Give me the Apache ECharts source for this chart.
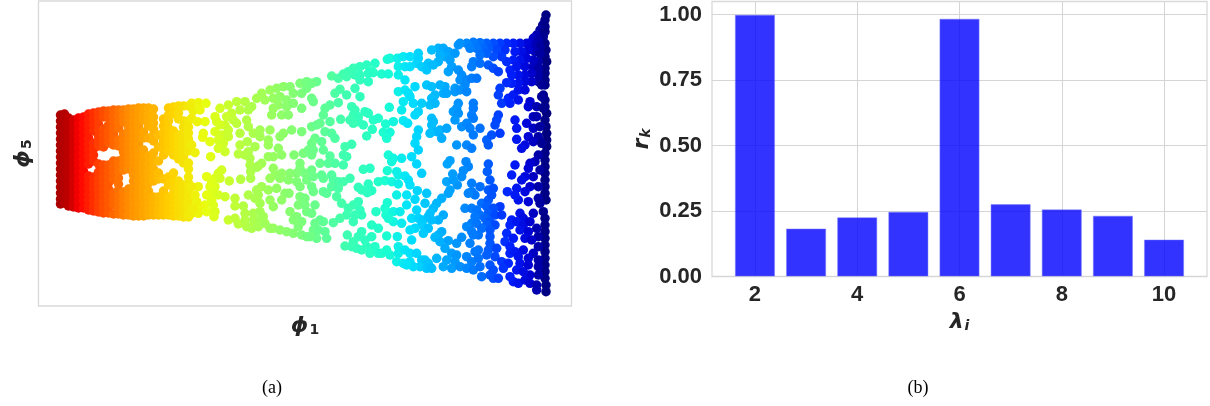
<!DOCTYPE html>
<html><head><meta charset="utf-8">
<style>html,body{margin:0;padding:0;background:#fff}#c{width:1210px;height:406px}</style>
<script src="https://cdn.jsdelivr.net/npm/echarts@6/dist/echarts.min.js"></script>
</head><body><div id="c"></div>
<script>
// panel (b)
const lambdaIndex = [2,3,4,5,6,7,8,9,10];
const rkValues = [0.999,0.183,0.226,0.247,0.984,0.276,0.256,0.232,0.141];
const lambdaTicks = [2,4,6,8,10];
const rkTicks = [0,0.25,0.5,0.75,1];
// panel (a), left part: estimated readings, each row is one phi1 reading and the phi5 readings found there
const phiRed = [
[22,[114,120,126,132,138,144,150,156,162,168,174,180,186,192,198,203]],
[26,[113,118,124,130,136,142,148,154,160,166,172,178,184,190,196,202]],
[30,[117,123,129,135,141,147,153,159,165,171,177,183,189,195,201,205]],
[35,[119,125,131,137,143,149,155,161,167,173,179,185,191,197,203,206]],
[40,[117,123,129,135,141,147,153,159,165,171,177,183,189,195,201,207]],
[45,[116,122,128,134,140,146,152,158,164,170,176,182,188,194,200,207]],
[50,[113,119,125,131,137,143,149,155,163,175,181,187,193,199,205,209]],
[55,[112,118,124,130,142,148,154,160,176,182,188,194,200,206,210]],
[60,[111,117,123,129,135,141,145,163,171,177,183,189,195,201,207,211]],
[65,[110,116,128,134,140,146,164,170,176,182,188,194,200,206,212]],
[70,[110,116,124,130,136,142,164,170,176,182,188,194,200,206,212]],
[75,[109,115,121,127,133,139,144,160,166,172,178,192,198,204,213]],
[80,[109,115,121,127,139,145,160,165,171,177,183,189,195,201,207,213]],
[85,[109,115,121,133,139,145,151,157,163,169,191,197,203,209,214]],
[90,[108,114,120,126,132,138,144,150,156,162,168,188,194,200,206,214]],
[95,[108,114,120,126,132,138,144,150,156,162,168,174,180,186,192,198,204,210,215]],
[100,[107,113,119,125,131,137,143,149,155,161,167,173,179,185,191,197,203,209,215]],
[105,[107,113,119,131,137,149,155,161,167,173,179,185,191,197,203,209,215]],
[110,[107,113,119,125,137,155,163,170,176,182,190,196,202,208,214]],
[115,[108,116,122,128,134,140,152,160,168,176,180,196,202,208,214]]
];
const phiOrange = [
[120,[134,146,160,172,178,196,202,208,214]],
[125,[118,125,132,140,148,154,178,190,196,202,208,214]],
[130,[107,114,120,127,136,142,150,176,184,196,202,208,214]],
[135,[106,113,130,136,142,148,154,172,180,186,192,198,204,210,215]],
[140,[105,112,118,134,140,146,152,158,180,186,192,198,204,210,215]],
[145,[105,120,126,132,138,144,150,156,162,184,190,196,202,208,216]],
[150,[105,120,126,132,138,144,150,162,168,176,182,188,194,200,206,212,216]]
];
// panel (a), right part: readings in thirds of a unit, relative to the corner of each read window
const windowGreen = [190,80];
const readGreen = [
[5,70],[25,68],[48,70],[10,92],[30,90],[5,115],[45,125],[22,125],
[75,110],[90,85],[115,75],[140,65],[165,65],[185,80],[200,55],[215,40],[240,30],[260,25],[280,20],[300,20],[330,10],[350,5],
[125,100],[150,90],[175,90],[110,110],[130,120],[105,135],[115,150],[140,130],[170,120],[175,140],[150,160],[90,135],[80,125],
[225,60],[250,55],[270,50],[290,60],[310,40],[335,40],[350,25],[265,75],[290,80],[310,70],[335,85],[250,85],[245,105],[275,105],[295,105],
[75,155],[95,165],[115,170],[85,180],[60,185],[100,190],[85,205],[105,215],[150,195],[172,185],[195,200],[145,222],[175,215],[165,225],
[190,160],[210,150],[210,170],[240,150],[235,180],[235,195],[235,230],[270,170],[280,160],[305,150],[335,155],[265,205],[275,225],[250,230],[312,225],[340,220],[355,210],
[40,160],[38,172],[5,195],[15,218],[62,230],
[180,235],[180,255],[182,275],[182,295],[205,258],[215,250],[200,262],[95,270],[85,280],[152,298],
[250,265],[330,250],[330,265],[320,280],[300,280],[275,280],[255,285],[240,295],[270,295],[295,300],[345,280],[350,300],[320,305],[330,320],
[50,290],[75,295],[65,305],[90,295],[118,303],[75,320],[60,320],[25,320],[5,320],[50,345],[70,335],[85,345],[105,350],[65,360],[45,375],[30,380],[70,375],[15,345],[20,365],[5,400],[25,400],[50,395],[75,395],[72,410],[10,385],
[215,320],[200,330],[205,345],[175,345],[210,370],[195,355],[235,330],[260,325],[285,340],[297,340],[240,360],[250,380],[275,360],[330,350],[345,355],[325,375],[345,375],[350,395],[300,395],[320,410],[335,425],[310,420],[325,440],
[135,355],[160,378],[135,378],[190,400],[165,400],[210,395],
[115,420],[135,415],[145,432],[165,420],[170,440],[190,420],[210,420],[185,445],[205,440],[225,430],[220,410],[240,445],[250,445],[270,450],[290,455],[310,460],[335,465],[350,470]
];
const windowTeal = [310,50];
const readTeal = [
[65,78],[85,85],[100,72],[115,65],[130,55],[150,50],[170,45],[195,40],[110,80],[135,75],[150,75],[175,70],[190,68],[150,90],[175,95],[185,65],
[215,72],[235,72],[232,28],[240,25],[262,25],[280,20],[300,20],[325,10],[265,50],[285,50],[265,75],[285,90],[300,50],[320,40],[335,50],[350,60],[355,40],[325,25],
[20,95],[5,100],[5,145],[10,155],[75,130],[90,118],[110,135],[135,115],[150,140],[85,158],
[60,165],[45,175],[40,195],[30,220],[60,215],[5,230],[20,225],[45,245],[65,250],[75,265],[15,265],[5,280],[35,275],[40,300],[10,300],[5,315],[60,318],[105,290],[125,283],[100,315],[110,320],
[125,170],[135,180],[130,195],[120,210],[145,200],[165,185],[175,190],[190,210],[205,205],[145,215],[160,225],[130,220],[92,208],[187,238],[170,258],
[238,172],[227,222],[250,215],[280,212],[293,220],[220,247],[240,247],[230,265],
[265,125],[285,120],[295,130],[300,140],[280,155],[275,180],[315,110],[350,105],[310,160],[335,160],[325,185],[315,195],[360,165],[325,240],[320,260],[315,280],[325,300],[305,320],[235,315],[250,325],[275,325]
];
const windowCyan = [310,160];
const readCyan = [
[30,10],[55,10],[75,10],[100,15],[5,30],[10,50],[35,45],[40,55],[65,45],[70,60],[85,65],[100,65],[120,55],[65,80],[85,85],[80,110],[95,130],[5,80],[10,95],[40,95],[50,100],
[15,135],[5,160],[30,180],[15,190],[40,185],[70,188],[10,210],[25,210],[45,215],[50,235],[20,235],[0,230],
[160,28],[180,25],[245,5],[320,12],[232,32],[260,35],[335,40],[265,45],[285,48],[295,60],[205,65],[225,62],[245,65],[265,72],[300,75],[175,72],[145,82],[155,90],[185,92],[172,98],
[260,105],[290,105],[322,92],[350,100],[315,118],[290,135],[345,130],[145,125],[130,135],[115,145],[110,165],[90,175],[150,150],[155,165],[135,165],[198,155],[232,128],[225,145],[228,165],[250,155],[270,155],[320,150],[250,185],[235,175],[275,190],[305,175],[325,175],[340,180],[355,170],[335,195],[355,205],[315,205],[300,210],
[130,185],[185,195],[205,205],[112,225],[155,215],[145,230],[130,245],[105,258],[125,260],[140,265],[165,240],[185,230],[195,260],[170,260],[230,228],[262,230],[305,240],[340,220],
[180,280],[155,270],[205,280],[215,280],[240,285],[230,270],[265,260],[265,280],[285,270],[300,280],[260,305],[280,310],[300,305],[320,280],[335,300],[330,320],[350,325],[310,320],[290,315],[345,300],[355,310]
];
const windowBlueTop = [430,10];
const readBlueTop = [
[348,15],[345,30],[338,45],[345,50],[330,60],[345,65],[320,75],[340,80],[345,100],[348,120],[345,140],[350,155],[345,175],[345,190],[345,210],[345,225],[340,255],[345,270],[345,290],[350,310],[345,330],[348,350],[350,370],[350,390],[350,410],
[310,85],[325,90],[300,100],[315,105],[330,110],[290,100],[270,100],[250,100],[230,100],[210,100],[190,100],[170,100],[150,98],[130,97],[110,100],[90,100],[85,105],
[315,125],[330,130],[295,120],[275,125],[255,125],[225,120],[200,120],[175,115],[160,115],[140,115],[120,115],
[325,155],[310,150],[290,145],[270,150],[250,150],[230,155],[215,140],[190,140],[170,130],[150,135],[130,155],[125,170],[150,160],[175,165],[190,175],[205,185],[240,180],[260,170],[285,170],[310,170],[325,175],
[325,195],[305,190],[285,195],[265,195],[245,195],[325,215],[305,215],[285,215],[265,220],[245,220],[230,218],[335,225],
[25,115],[40,115],[5,120],[55,125],[75,130],[45,140],[60,150],[30,135],[25,155],[10,165],[55,185],[65,170],[85,180],[95,195],[90,210],[110,210],[125,205],[140,205],[105,225],[75,235],[45,230],[40,250],[30,225],[5,230],
[15,255],[5,265],[15,280],[50,250],[75,245],[90,240],[110,245],[85,280],[80,295],[70,305],[85,310],[130,280],[130,295],[125,315],[130,325],[75,330],
[210,235],[205,255],[215,280],[235,265],[250,255],[265,240],[285,240],[240,280],[265,270],[300,275],[295,290],[335,260],[320,290],[340,295],
[205,315],[200,330],[195,345],[255,330],[290,340],[310,320],[320,320],[260,355],[310,355],[330,350],[295,380],[260,388],[325,380],[310,395],[285,405],[275,415],[335,400],
[5,325],[10,335],[5,345],[30,360],[50,355],[20,365],[0,370],[35,385],[95,350],[110,340],[120,355],[150,355],[130,375],[170,390],[185,375],[210,370],[175,405],[80,405],[110,405],[125,415]
];
const windowBlueLow = [430,150];
const readBlueLow = [
[345,10],[345,30],[345,50],[345,70],[345,90],[345,110],[345,130],[348,150],[340,185],[345,205],[345,225],[345,245],[345,265],[345,285],[345,305],[345,325],[345,345],[345,365],[345,385],[348,405],[348,425],
[325,15],[315,35],[300,40],[295,55],[330,60],[310,80],[285,80],[275,90],[300,110],[325,110],[260,115],[285,125],[265,150],[295,155],[325,145],[330,160],[310,190],[270,190],[280,205],
[255,45],[245,75],[232,125],[255,135],
[60,32],[52,42],[108,35],[115,50],[100,62],[175,42],[172,65],[68,72],[95,80],[82,105],[50,95],[60,120],[55,130],[35,145],[70,90],[180,90],
[125,100],[150,110],[125,125],[135,135],[115,130],[175,120],[190,115],[155,160],[175,150],[185,135],[210,170],[105,175],[125,175],[140,180],
[20,160],[10,175],[0,190],[40,195],[25,210],[5,210],
[170,170],[190,175],[175,190],[195,195],[215,195],[150,195],[135,200],[125,220],[110,230],[165,205],[180,215],[195,225],[140,220],[170,225],[125,245],[155,235],[145,255],[130,255],[35,245],[25,255],[15,262],[30,275],[55,272],[80,280],[95,262],[120,280],[45,295],
[245,210],[240,225],[260,215],[280,225],[300,215],[230,250],[270,240],[295,245],[250,265],[320,235],[325,260],[225,275],[240,290],[285,265],[305,270],[325,290],
[180,240],[180,260],[180,280],[175,300],[200,295],[145,300],[135,305],[195,320],[170,315],[240,310],[255,305],[280,300],[265,320],[310,310],[325,330],[295,325],
[65,310],[80,315],[110,320],[125,335],[145,325],[50,330],[20,325],[40,350],[5,355],[75,335],[65,355],[90,350],[110,355],[130,360],[155,380],[150,350],[180,345],[180,375],[190,385],[215,335],[235,340],[270,340],[220,355],[260,360],[295,345],[300,375],[325,350],[325,375],[280,365],
[250,395],[265,400],[285,390],[300,400],[320,405],[320,420],[240,380],[205,385],[190,360]
];
// colour reading along phi1: position, colour
const colourAt = [0,'#800000',32,'#c00000',42,'#ff0000',62,'#ff4500',92,'#ff9000',132,'#ffd000',167,'#e8ff10',202,'#b8ff40',262,'#7dff7a',307,'#40ffb0',347,'#1cffd0',372,'#00e0ff',402,'#00b0ff',442,'#0070ff',472,'#0020ff',492,'#0000d0',508,'#00007f'];

function jet(x){
  for(let i=0;i<colourAt.length-2;i+=2){
    const a=colourAt[i], b=colourAt[i+2];
    if(x<=b) return echarts.color.lerp((x-a)/(b-a),[colourAt[i+1],colourAt[i+3]]);
  }
  return colourAt[colourAt.length-1];
}
const scatterPoints=[];
[phiRed,phiOrange].forEach(b=>b.forEach(r=>r[1].forEach(y=>scatterPoints.push([r[0],y]))));
[[windowGreen,readGreen],[windowTeal,readTeal],[windowCyan,readCyan],[windowBlueTop,readBlueTop],[windowBlueLow,readBlueLow]]
  .forEach(([w,list])=>list.forEach(([a,b])=>scatterPoints.push([w[0]+a/3-38.5,w[1]+b/3-1])));

const chart=echarts.init(document.getElementById('c'),null,{renderer:'canvas'});
const tickFont={fontFamily:'Liberation Sans',fontWeight:'bold',fontSize:22,color:'#262626'};
const mathRich={
  p:{fontFamily:'DejaVu Sans',fontWeight:'bold',fontStyle:'italic',fontSize:22,color:'#262626',verticalAlign:'bottom'},
  s:{fontFamily:'DejaVu Sans',fontWeight:'bold',fontSize:14,color:'#262626',verticalAlign:'bottom',padding:[0,0,0,1]},
  i:{fontFamily:'DejaVu Sans',fontWeight:'bold',fontStyle:'italic',fontSize:14,color:'#262626',verticalAlign:'bottom',padding:[0,0,0,1]}
};
const captionFont={fontFamily:'Liberation Serif',fontWeight:'normal',fontSize:18,color:'#000'};
chart.setOption({
  animation:false,
  backgroundColor:'#fff',
  title:[
    {text:'(a)',left:272,top:379,padding:0,textAlign:'center',textStyle:captionFont},
    {text:'(b)',left:918,top:379,padding:0,textAlign:'center',textStyle:captionFont}
  ],
  grid:[
    {left:38.5,top:1,width:533,height:305,show:true,borderColor:'#d9d9d9',borderWidth:1.3,backgroundColor:'#fff'},
    {left:712,top:1.5,width:495,height:275,show:true,borderColor:'#d9d9d9',borderWidth:1.3,backgroundColor:'#fff'}
  ],
  xAxis:[
    {gridIndex:0,type:'value',min:0,max:533,axisLine:{show:false},axisTick:{show:false},axisLabel:{show:false},splitLine:{show:false},
     name:'{p|ϕ}{s|1}',nameLocation:'middle',nameGap:9,nameTextStyle:{rich:mathRich}},
    {gridIndex:1,type:'value',min:1.16,max:10.84,axisLine:{show:false},
     axisTick:{show:false,customValues:lambdaTicks},
     axisLabel:{customValues:lambdaTicks,margin:7,...tickFont},
     splitLine:{show:true,lineStyle:{color:'#d5d5d5',width:1}},
     name:'{p|λ}{i|i}',nameLocation:'middle',nameGap:35,nameTextStyle:{rich:mathRich}}
  ],
  yAxis:[
    {gridIndex:0,type:'value',inverse:true,min:0,max:305,axisLine:{show:false},axisTick:{show:false},axisLabel:{show:false},splitLine:{show:false},
     name:'{p|ϕ}{s|5}',nameLocation:'middle',nameGap:4,nameTextStyle:{rich:mathRich}},
    {gridIndex:1,type:'value',min:0,max:1.05,axisLine:{show:false},
     axisTick:{show:false,customValues:rkTicks},
     axisLabel:{customValues:rkTicks,margin:10,formatter:v=>v.toFixed(2),...tickFont},
     splitLine:{show:true,lineStyle:{color:'#d5d5d5',width:1}},
     name:'{p|r}{i|k}',nameLocation:'middle',nameGap:59,nameTextStyle:{rich:mathRich}}
  ],
  series:[
    {type:'scatter',xAxisIndex:0,yAxisIndex:0,symbolSize:9.5,data:scatterPoints,clip:false,
     itemStyle:{opacity:1,color:p=>jet(p.value[0])}},
    {type:'bar',xAxisIndex:1,yAxisIndex:1,barWidth:40,data:lambdaIndex.map((x,i)=>[x,rkValues[i]]),
     itemStyle:{color:'rgba(0,0,255,0.8)',borderColor:'rgba(120,120,255,0.6)',borderWidth:0.8}}
  ]
});
</script></body></html>
